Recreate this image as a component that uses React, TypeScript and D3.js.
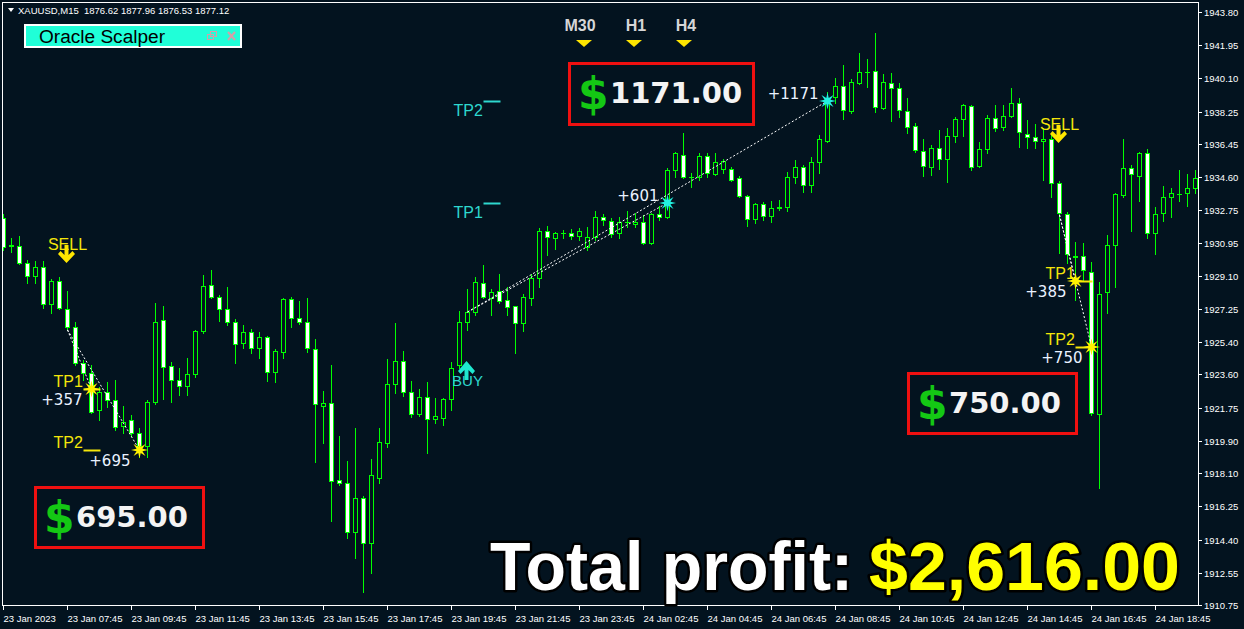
import React from "react";
import * as d3 from "d3";

// ---------- DATA ----------
// Candles: [open, high, low, close]
const candles: [number, number, number, number][] = [
  [1932.32,1932.54,1930.54,1930.70],[1930.76,1931.20,1930.42,1930.81],[1930.76,1931.32,1929.76,1929.81],
  [1929.81,1929.98,1928.70,1929.09],[1929.09,1929.92,1928.70,1929.59],[1929.59,1929.92,1927.30,1927.53],
  [1927.53,1928.92,1927.02,1928.81],[1928.81,1929.03,1927.25,1927.30],[1927.25,1928.25,1926.08,1926.24],
  [1926.24,1926.52,1924.13,1924.24],[1924.24,1924.40,1923.29,1923.68],[1923.68,1924.13,1921.45,1921.51],
  [1921.62,1922.90,1921.06,1922.62],[1922.62,1923.18,1921.79,1922.18],[1922.18,1923.29,1920.50,1920.67],
  [1920.73,1921.84,1920.34,1920.95],[1921.06,1921.34,1920.17,1920.34],[1920.34,1920.62,1919.00,1919.61],
  [1919.61,1922.18,1919.00,1922.06],[1922.06,1927.58,1921.95,1926.52],[1926.63,1927.41,1922.23,1924.01],
  [1924.07,1924.29,1922.06,1923.29],[1923.29,1923.96,1922.45,1922.96],[1922.96,1924.52,1922.45,1923.62],
  [1923.62,1926.08,1923.46,1926.02],[1926.02,1929.14,1925.91,1928.53],[1928.59,1929.42,1927.86,1927.92],
  [1927.92,1928.03,1926.58,1927.25],[1927.25,1928.47,1926.36,1926.52],[1926.52,1926.69,1924.24,1925.30],
  [1925.35,1926.36,1925.07,1925.97],[1925.97,1926.13,1924.80,1925.07],[1925.07,1925.97,1924.52,1925.69],
  [1925.69,1925.74,1923.23,1923.74],[1923.74,1925.02,1923.18,1924.91],[1924.85,1927.86,1924.52,1927.80],
  [1927.80,1927.92,1926.24,1926.75],[1926.75,1927.69,1926.41,1926.52],[1926.52,1927.86,1924.85,1925.07],
  [1925.02,1925.58,1918.72,1921.95],[1921.84,1922.68,1919.78,1922.01],[1922.01,1924.13,1915.43,1917.66],
  [1917.72,1920.17,1917.44,1917.55],[1917.55,1918.78,1914.48,1914.82],[1914.82,1920.62,1913.37,1916.71],
  [1916.71,1916.83,1911.47,1914.21],[1914.21,1918.89,1912.53,1918.00],[1917.83,1920.62,1917.55,1919.83],
  [1919.78,1924.46,1919.56,1923.07],[1923.07,1926.47,1922.57,1924.35],[1924.35,1924.91,1922.40,1922.62],
  [1922.62,1923.23,1921.23,1921.40],[1921.40,1922.79,1921.28,1922.34],[1922.34,1923.18,1919.22,1921.12],
  [1921.12,1922.29,1920.89,1921.28],[1921.17,1922.29,1920.78,1922.23],[1922.23,1924.29,1921.62,1923.96],
  [1924.13,1927.14,1923.96,1926.52],[1926.52,1928.36,1926.08,1927.08],[1927.08,1929.03,1926.91,1928.75],
  [1928.70,1929.70,1927.86,1927.92],[1927.86,1928.36,1926.91,1928.20],[1928.25,1929.20,1927.58,1927.69],
  [1927.75,1928.47,1926.91,1927.36],[1927.41,1927.41,1924.80,1926.47],[1926.47,1928.08,1926.02,1927.92],
  [1927.86,1929.20,1927.47,1928.98],[1928.98,1931.76,1928.47,1931.60],[1931.60,1931.87,1930.26,1931.26],
  [1931.20,1931.54,1930.59,1931.48],[1931.48,1931.65,1931.20,1931.50],[1931.48,1931.71,1931.15,1931.32],
  [1931.32,1931.76,1931.09,1931.60],[1930.70,1931.82,1930.54,1931.26],[1931.26,1932.71,1931.09,1932.38],
  [1932.38,1932.54,1931.93,1932.21],[1932.15,1932.32,1931.26,1931.43],[1931.48,1932.38,1931.20,1932.10],
  [1932.08,1932.71,1931.82,1932.10],[1931.99,1932.60,1931.82,1932.10],[1932.10,1932.49,1930.87,1930.93],
  [1930.93,1932.60,1930.87,1932.54],[1932.54,1932.99,1932.21,1932.38],[1932.38,1935.11,1932.32,1934.99],
  [1934.99,1936.00,1934.60,1935.94],[1935.83,1937.06,1934.55,1934.60],[1934.60,1934.83,1934.05,1934.58],
  [1934.60,1935.94,1934.44,1935.77],[1935.77,1935.94,1934.60,1934.83],[1934.77,1935.94,1934.72,1935.44],
  [1935.05,1935.61,1934.83,1935.50],[1935.05,1935.16,1934.38,1934.44],[1934.55,1934.66,1933.49,1933.55],
  [1933.55,1933.60,1931.87,1932.26],[1932.26,1933.16,1932.04,1933.10],[1933.10,1933.21,1932.21,1932.43],
  [1932.43,1933.27,1932.10,1932.88],[1932.88,1933.32,1932.76,1932.93],[1932.93,1934.88,1932.71,1934.60],
  [1934.60,1935.55,1934.27,1935.16],[1935.16,1935.27,1933.77,1934.16],[1934.16,1935.72,1933.77,1935.44],
  [1935.44,1936.94,1934.83,1936.72],[1936.61,1939.34,1936.55,1938.90],[1939.06,1940.12,1938.73,1939.68],
  [1939.68,1940.85,1937.84,1938.34],[1938.28,1940.07,1938.17,1939.90],[1939.84,1941.52,1939.80,1940.46],
  [1940.46,1941.18,1939.62,1940.44],[1940.51,1942.63,1938.23,1938.51],[1938.45,1940.35,1938.40,1939.90],
  [1939.84,1940.40,1937.73,1939.56],[1939.56,1939.84,1937.95,1938.34],[1938.28,1939.01,1937.06,1937.39],
  [1937.45,1937.61,1936.00,1936.11],[1936.05,1936.72,1934.66,1935.22],[1935.16,1936.39,1934.72,1936.22],
  [1936.22,1937.22,1935.05,1935.61],[1935.61,1937.34,1934.33,1936.89],[1936.89,1937.95,1936.55,1937.84],
  [1937.84,1938.67,1936.89,1938.62],[1938.56,1938.62,1934.99,1935.16],[1935.22,1936.55,1935.16,1936.16],
  [1936.16,1938.06,1935.94,1937.89],[1937.89,1938.62,1937.17,1937.34],[1937.39,1938.62,1937.22,1938.00],
  [1938.00,1939.56,1937.95,1938.73],[1938.73,1939.01,1936.28,1937.11],[1937.00,1937.78,1936.22,1936.83],
  [1936.83,1937.56,1936.22,1936.61],[1936.61,1937.34,1934.44,1936.72],[1936.72,1937.06,1933.49,1934.27],
  [1934.27,1934.38,1930.37,1932.60],[1932.54,1932.65,1929.81,1930.31],[1930.15,1930.98,1927.75,1930.20],
  [1930.20,1930.93,1928.86,1929.42],[1929.31,1929.87,1921.34,1921.45],[1921.40,1928.75,1917.27,1928.08],
  [1928.20,1931.37,1927.02,1930.81],[1930.81,1933.71,1928.47,1933.66],[1933.60,1936.72,1933.49,1935.11],
  [1935.11,1935.27,1931.60,1934.77],[1934.66,1936.00,1933.27,1935.94],[1935.94,1936.16,1931.20,1931.48],
  [1931.48,1932.93,1930.31,1932.54],[1932.60,1934.10,1932.15,1933.49],[1933.49,1933.99,1932.38,1933.71],
  [1933.66,1934.99,1933.27,1933.68],[1933.71,1934.77,1932.99,1933.99],[1933.99,1934.99,1933.71,1934.55],
];

const priceTicks = [
  "1943.80","1941.95","1940.10","1938.25","1936.45","1934.60","1932.75","1930.95","1929.10","1927.25",
  "1925.40","1923.60","1921.75","1919.90","1918.10","1916.25","1914.40","1912.55","1910.75",
];

const timeLabels = [
  "23 Jan 2023","23 Jan 07:45","23 Jan 09:45","23 Jan 11:45","23 Jan 13:45","23 Jan 15:45",
  "23 Jan 17:45","23 Jan 19:45","23 Jan 21:45","23 Jan 23:45","24 Jan 02:45","24 Jan 04:45",
  "24 Jan 06:45","24 Jan 08:45","24 Jan 10:45","24 Jan 12:45","24 Jan 14:45","24 Jan 16:45","24 Jan 18:45",
];
const timeLabelStep = 8; // candles between labels

// Signals: type, candle index, price at arrow tip
const signals = [
  { type: "sell", index: 8, price: 1929.81 },
  { type: "buy", index: 58, price: 1924.35 },
  { type: "sell", index: 132, price: 1936.5 },
];

// Trades: entry and take-profit hits
const trades = [
  { dir: "sell", entryIndex: 8, entryPrice: 1926.08,
    tps: [ { name: "TP1", index: 11, price: 1922.79, profit: 357 }, { name: "TP2", index: 17, price: 1919.39, profit: 695 } ] },
  { dir: "buy", entryIndex: 58, entryPrice: 1927.08,
    tps: [ { name: "TP1", index: 83, price: 1933.16, profit: 601 }, { name: "TP2", index: 103, price: 1938.84, profit: 1171 } ] },
  { dir: "sell", entryIndex: 132, entryPrice: 1932.49,
    tps: [ { name: "TP1", index: 134, price: 1928.81, profit: 385 }, { name: "TP2", index: 136, price: 1925.13, profit: 750 } ] },
];

const timeframes = ["M30", "H1", "H4"];
const headerText = "XAUUSD,M15  1876.62 1877.96 1876.53 1877.12";

// ---------- LAYOUT ----------
const W = 1244, H = 629;
const frame = { left: 2.5, top: 2.5, right: 1198.5, bottom: 605.5 };
const BG = "#03131f";
const GREEN = "#00ff00";
const YELLOW = "#f5e60a";
const CYAN = "#2ed8cf";
const boxLayout = [
  { x: 34, y: 486, w: 171, h: 63 },
  { x: 568, y: 62, w: 187, h: 64 },
  { x: 907, y: 372, w: 171, h: 63 },
];
const tfLayout = [580, 636, 686];
const triLayout = [584, 634, 684];

function starPath(cx: number, cy: number, ro: number, ri: number, n = 8) {
  const pts = d3.range(n * 2).map((k) => {
    const a = (k * Math.PI) / n - Math.PI / 2;
    const r = k % 2 === 0 ? ro : ri;
    return [cx + r * Math.cos(a), cy + r * Math.sin(a)];
  });
  return "M" + pts.map((p) => p[0].toFixed(2) + "," + p[1].toFixed(2)).join("L") + "Z";
}

function downArrow(cx: number, tip: number) {
  const t = tip - 18;
  return `M${cx - 2},${t} L${cx + 2},${t} L${cx + 2},${t + 10} L${cx + 6},${t + 6} L${cx + 8.5},${t + 9} L${cx},${tip} L${cx - 8.5},${t + 9} L${cx - 6},${t + 6} L${cx - 2},${t + 10} Z`;
}
function upArrow(cx: number, tip: number) {
  const b = tip + 19;
  return `M${cx - 2},${b} L${cx + 2},${b} L${cx + 2},${b - 10} L${cx + 6},${b - 6} L${cx + 8.5},${b - 9} L${cx},${tip} L${cx - 8.5},${b - 9} L${cx - 6},${b - 6} L${cx - 2},${b - 10} Z`;
}

export default function App() {
  const x = d3.scaleLinear().domain([0, candles.length - 1]).range([3.5, 3.5 + 8 * (candles.length - 1)]);
  const y = d3.scaleLinear().domain([1910.75, 1943.8]).range([605, 12]);

  const profits = trades.map((t) => t.tps[t.tps.length - 1].profit);
  const total = d3.sum(profits);
  const fmt = d3.format(",.2f");

  const font = "'Liberation Sans', Arial, sans-serif";
  const dejavu = "'DejaVu Sans', sans-serif";

  return (
    <svg width={W} height={H} style={{ position: "absolute", left: 0, top: 0, display: "block" }}
      xmlns="http://www.w3.org/2000/svg">
      <defs>
        <clipPath id="plot">
          <rect x={3} y={3} width={1195} height={602} />
        </clipPath>
      </defs>
      <rect x={0} y={0} width={W} height={H} fill={BG} />

      {/* candles */}
      <g clipPath="url(#plot)">
        {candles.map(([o, h, l, c], i) => {
          const cx = x(i);
          const yo = Math.round(y(o));
          const yc = Math.round(y(c));
          const yh = Math.round(y(h));
          const yl = Math.round(y(l));
          const top = Math.min(yo, yc) + 0.5;
          const bot = Math.max(yo, yc) + 0.5;
          const bull = c > o;
          return (
            <g key={i}>
              <line x1={cx} x2={cx} y1={yh} y2={yl + 1} stroke={GREEN} strokeWidth={1} />
              {bot - top < 1 ? (
                <line x1={cx - 2.5} x2={cx + 2.5} y1={top} y2={top} stroke={GREEN} strokeWidth={1} />
              ) : (
                <rect x={cx - 2} y={top} width={4} height={bot - top}
                  fill={bull ? BG : "#ffffff"} stroke={GREEN} strokeWidth={1} />
              )}
            </g>
          );
        })}
      </g>

      {/* trades */}
      {trades.map((t, ti) => {
        const ex = x(t.entryIndex);
        const ey = y(t.entryPrice);
        const col = t.dir === "sell" ? YELLOW : CYAN;
        return (
          <g key={"t" + ti}>
            {t.tps.map((tp, k) => {
              const tx = x(tp.index);
              const ty = y(tp.price);
              return (
                <line key={"d" + k} x1={ex} y1={ey} x2={tx} y2={ty} stroke="#ffffff"
                  strokeWidth={1} strokeDasharray="2,2" />
              );
            })}
            {t.tps.map((tp, k) => {
              const ty = y(tp.price);
              const lx = ex - 14;
              const base = t.dir === "sell" ? ty - 2 : ty + 15;
              return (
                <g key={"l" + k}>
                  <text x={lx} y={base} fill={col} fontFamily={font} fontSize={16}>{tp.name}</text>
                  <line x1={ex + 16} x2={ex + 33} y1={Math.round(ty) + 0.5} y2={Math.round(ty) + 0.5}
                    stroke={col} strokeWidth={2} />
                </g>
              );
            })}
            {t.tps.map((tp, k) => {
              const tx = x(tp.index);
              const ty = y(tp.price);
              return (
                <g key={"s" + k}>
                  <path d={starPath(tx, ty, 8.5, 3.2)} fill={t.dir === "sell" ? "#fff200" : "#22f0e0"} />
                  <text x={tx - 9} y={t.dir === "sell" ? ty + 16 : ty - 2} textAnchor="end"
                    fill="#eaf2ff" fontFamily={dejavu} fontSize={15}>{"+" + tp.profit}</text>
                </g>
              );
            })}
          </g>
        );
      })}

      {/* signals */}
      {signals.map((s, i) => {
        const cx = x(s.index) - 1;
        const tip = y(s.price);
        if (s.type === "sell") {
          return (
            <g key={"sig" + i}>
              <text x={cx + 1} y={tip - 13} textAnchor="middle" fill={YELLOW} fontFamily={font} fontSize={16}>SELL</text>
              <path d={downArrow(cx, tip)} fill="#ffe600" />
            </g>
          );
        }
        return (
          <g key={"sig" + i}>
            <path d={upArrow(cx, tip)} fill="#1fe8d0" />
            <text x={cx + 1} y={tip + 25} textAnchor="middle" fill={CYAN} fontFamily={font} fontSize={15}>BUY</text>
          </g>
        );
      })}

      {/* frame */}
      <rect x={frame.left} y={frame.top} width={frame.right - frame.left} height={frame.bottom - frame.top}
        fill="none" stroke="#ffffff" strokeWidth={1} />

      {/* price axis */}
      {priceTicks.map((p, i) => {
        const yy = Math.round(y(+p)) + 0.5;
        return (
          <g key={"p" + i}>
            <line x1={1199} x2={1202} y1={yy} y2={yy} stroke="#ffffff" strokeWidth={1} />
            <text x={1204} y={yy + 3.5} fill="#ffffff" fontFamily={font} fontSize={9.5}>{p}</text>
          </g>
        );
      })}

      {/* time axis */}
      {timeLabels.map((lab, i) => {
        const xx = Math.floor(x(i * timeLabelStep)) + 0.5;
        return (
          <g key={"tl" + i}>
            <line x1={xx} x2={xx} y1={606} y2={610} stroke="#ffffff" strokeWidth={1} />
            <text x={xx} y={622} fill="#ffffff" fontFamily={font} fontSize={9.5}>{lab}</text>
          </g>
        );
      })}

      {/* header */}
      <path d="M8,8 L14,8 L11,12 Z" fill="#ffffff" />
      <text x={18} y={14} fill="#ffffff" fontFamily={font} fontSize={9.5} style={{ whiteSpace: "pre" }}>{headerText}</text>

      {/* Oracle Scalper panel */}
      <rect x={25} y={25} width={216} height={22} fill="#20ffd8" stroke="#ffffff" strokeWidth={2} />
      <text x={39} y={43} fill="#000000" fontFamily={font} fontSize={18} textLength={126} lengthAdjust="spacingAndGlyphs">Oracle Scalper</text>
      <g stroke="#d4a0a8" strokeWidth={1} fill="none">
        <rect x={207.5} y={34.5} width={6} height={5} />
        <rect x={210.5} y={31.5} width={6} height={5} />
        <line x1={228} y1={32} x2={235} y2={40} strokeWidth={2} />
        <line x1={235} y1={32} x2={228} y2={40} strokeWidth={2} />
      </g>

      {/* timeframe markers */}
      {timeframes.map((tf, i) => (
        <g key={"tf" + i}>
          <text x={tfLayout[i]} y={31} textAnchor="middle" fill="#d6d6d6" fontFamily={font}
            fontWeight="bold" fontSize={16}>{tf}</text>
          <path d={`M${triLayout[i] - 8},40 L${triLayout[i] + 8},40 L${triLayout[i]},47 Z`} fill="#ffe600" />
        </g>
      ))}

      {/* profit boxes */}
      {profits.map((p, i) => {
        const b = boxLayout[i];
        return (
          <g key={"b" + i}>
            <rect x={b.x + 1.5} y={b.y + 1.5} width={b.w - 3} height={b.h - 3} fill={BG} stroke="#f01010" strokeWidth={3} />
            <text x={b.x + 10} y={b.y + 47} fill="#14c814" fontFamily={dejavu}
              fontWeight="bold" fontSize={44}>$</text>
            <text x={b.x + 42} y={b.y + 41} fill="#f4f4f4" fontFamily={dejavu}
              fontWeight="bold" fontSize={29}>{p.toFixed(2)}</text>
          </g>
        );
      })}

      {/* total profit */}
      <text x={490} y={590} fill="#ffffff" stroke="#000000" strokeWidth={5} paintOrder="stroke"
        strokeLinejoin="round" fontFamily={font} fontWeight="bold" fontSize={68}
        textLength={363} lengthAdjust="spacingAndGlyphs">Total profit:</text>
      <text x={869} y={590} fill="#ffff00" stroke="#000000" strokeWidth={5} paintOrder="stroke"
        strokeLinejoin="round" fontFamily={font} fontWeight="bold" fontSize={68}
        textLength={311} lengthAdjust="spacingAndGlyphs">{"$" + fmt(total)}</text>
    </svg>
  );
}
